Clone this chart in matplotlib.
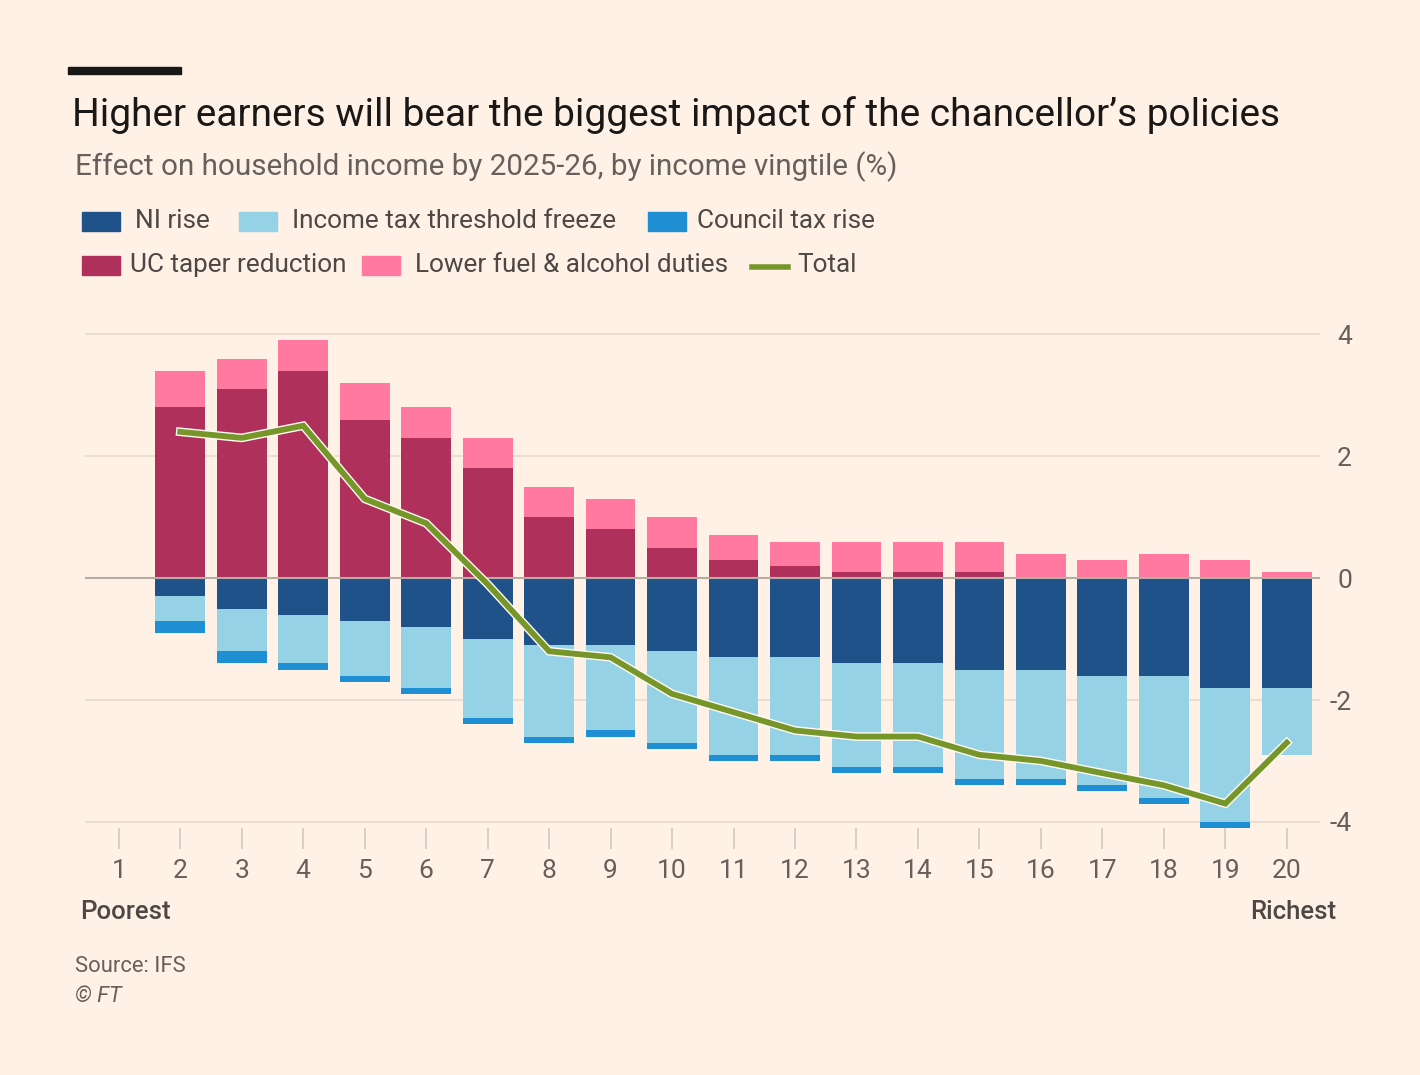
import matplotlib
matplotlib.use("Agg")
import matplotlib.pyplot as plt
import matplotlib.patheffects as pe
from matplotlib.patches import Rectangle
from matplotlib.lines import Line2D

plt.rcParams["font.family"] = ["Roboto", "DejaVu Sans"]
plt.rcParams["axes.unicode_minus"] = False

# income vingtiles (bars only drawn from 2 to 20, as in the original chart)
ticks = list(range(1, 21))
vingtile = list(range(2, 21))

uc_taper = [2.8, 3.1, 3.4, 2.6, 2.3, 1.8, 1.0, 0.8, 0.5, 0.3, 0.2, 0.1, 0.1, 0.1, 0.0, 0.0, 0.0, 0.0, 0.0]
fuel_duty = [0.6, 0.5, 0.5, 0.6, 0.5, 0.5, 0.5, 0.5, 0.5, 0.4, 0.4, 0.5, 0.5, 0.5, 0.4, 0.3, 0.4, 0.3, 0.1]
ni_rise = [-0.3, -0.5, -0.6, -0.7, -0.8, -1.0, -1.1, -1.1, -1.2, -1.3, -1.3, -1.4, -1.4, -1.5, -1.5, -1.6, -1.6, -1.8, -1.8]
income_tax = [-0.4, -0.7, -0.8, -0.9, -1.0, -1.3, -1.5, -1.4, -1.5, -1.6, -1.6, -1.7, -1.7, -1.8, -1.8, -1.8, -2.0, -2.2, -1.1]
council_tax = [-0.2, -0.2, -0.1, -0.1, -0.1, -0.1, -0.1, -0.1, -0.1, -0.1, -0.1, -0.1, -0.1, -0.1, -0.1, -0.1, -0.1, -0.1, 0.0]
total = [2.4, 2.3, 2.5, 1.3, 0.9, -0.1, -1.2, -1.3, -1.9, -2.2, -2.5, -2.6, -2.6, -2.9, -3.0, -3.2, -3.4, -3.7, -2.7]

BG = "#fff1e5"
C_NI = "#1f5289"
C_IT = "#96d2e6"
C_CT = "#1f8fd3"
C_UC = "#b0305c"
C_FUEL = "#ff79a1"
C_TOTAL = "#76962a"
GREY = "#66605c"
DARK = "#4d4845"

W, H = 1420, 1075
fig = plt.figure(figsize=(W / 100, H / 100), dpi=100, facecolor=BG)


def fx(px):
    return px / W


def fy(py):
    return 1 - py / H


ax = fig.add_axes([fx(85), fy(828), fx(1320) - fx(85), fy(316) - fy(828)])
ax.set_facecolor(BG)
ax.set_xlim(0.45, 20.54)
ax.set_ylim(-4.1, 4.3)

for y in [4, 2, -2, -4]:
    ax.axhline(y, color="#e8dbd0", lw=1.3, zorder=0)

bw = 0.81
ax.bar(vingtile, uc_taper, bw, color=C_UC, zorder=2)
ax.bar(vingtile, fuel_duty, bw, bottom=uc_taper, color=C_FUEL, zorder=2)
ax.bar(vingtile, ni_rise, bw, color=C_NI, zorder=2)
ax.bar(vingtile, income_tax, bw, bottom=ni_rise, color=C_IT, zorder=2)
neg_bottom = [a + b for a, b in zip(ni_rise, income_tax)]
ax.bar(vingtile, council_tax, bw, bottom=neg_bottom, color=C_CT, zorder=2, clip_on=False)

ax.axhline(0, color="#b5aca5", lw=1.5, zorder=3)

ax.plot(vingtile, total, color=C_TOTAL, lw=4.2, zorder=4, solid_joinstyle="miter",
        path_effects=[pe.Stroke(linewidth=6.2, foreground="#fffaf3"), pe.Normal()])

for s in ax.spines.values():
    s.set_visible(False)

ax.set_xticks(ticks)
ax.set_xticklabels([str(t) for t in ticks])
ax.tick_params(axis="x", length=15, width=1.2, color="#d3c9bf", pad=7,
               labelsize=19, labelcolor=GREY)
ax.yaxis.tick_right()
ax.set_yticks([4, 2, 0, -2, -4])
ax.set_yticklabels(["4", "2", "0", "-2", "-4"])
ax.tick_params(axis="y", length=0, pad=23, labelsize=19, labelcolor=GREY)
for lab in ax.get_yticklabels():
    lab.set_ha("right")

# title block
fig.add_artist(Rectangle((fx(68), fy(74)), fx(181) - fx(68), fy(67) - fy(74),
                         transform=fig.transFigure, color="#1a1817"))
fig.text(fx(72), fy(115), "Higher earners will bear the biggest impact of the chancellor\u2019s policies",
         fontsize=28, color="#1a1817", va="center")
fig.text(fx(75), fy(167), "Effect on household income by 2025-26, by income vingtile (%)",
         fontsize=21.3, color=GREY, va="center")

# legend
legend_items = [
    (82, 221, C_NI, "NI rise", 135),
    (239, 221, C_IT, "Income tax threshold freeze", 292),
    (648, 221, C_CT, "Council tax rise", 697),
    (82, 265, C_UC, "UC taper reduction", 130),
    (362, 265, C_FUEL, "Lower fuel & alcohol duties", 415),
]
for px, py, col, label, tx in legend_items:
    fig.add_artist(Rectangle((fx(px), fy(py + 9.5)), fx(38), 19 / H,
                             transform=fig.transFigure, color=col))
    fig.text(fx(tx), fy(py), label, fontsize=18.8, color=DARK, va="center")
fig.add_artist(Line2D([fx(752), fx(788)], [fy(267), fy(267)], transform=fig.transFigure,
                      color=C_TOTAL, lw=4))
fig.text(fx(797), fy(265), "Total", fontsize=18.8, color=DARK, va="center")

# axis end labels and footer
fig.text(fx(80), fy(912), "Poorest", fontsize=18.5, color=DARK, va="center", weight="medium")
fig.text(fx(1336), fy(912), "Richest", fontsize=18.5, color=DARK, va="center", ha="right",
         weight="medium")
fig.text(fx(75), fy(966), "Source: IFS", fontsize=15.8, color=GREY, va="center")
fig.text(fx(75), fy(996), "\u00a9 FT", fontsize=15.8, color=GREY, va="center", style="italic")

fig.savefig("out.png", dpi=100, facecolor=BG)
